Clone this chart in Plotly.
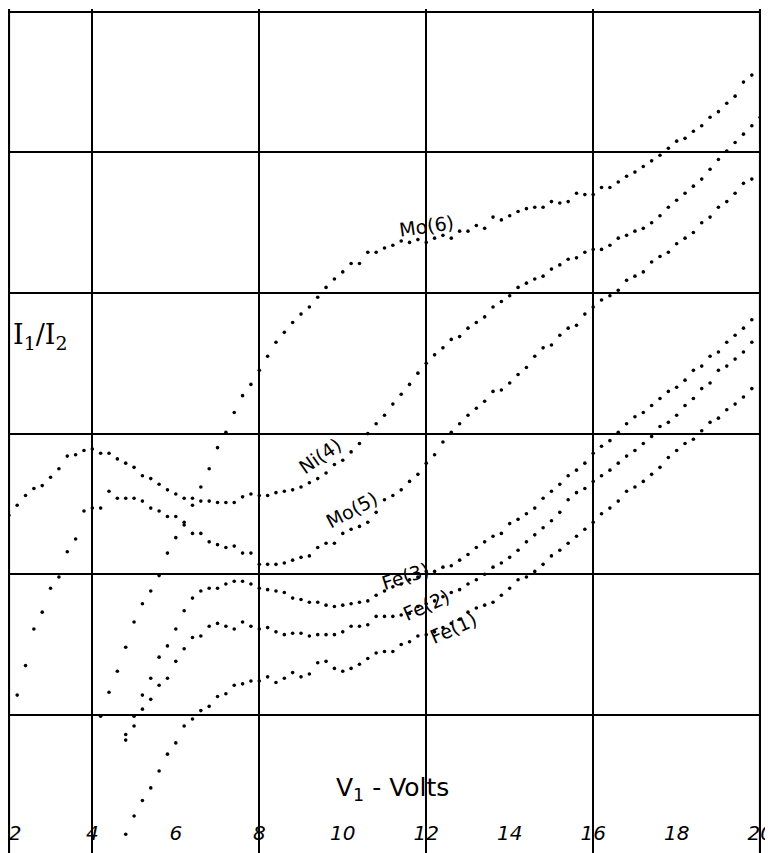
import plotly.graph_objects as go

VOLTS = [2.0, 2.2, 2.4, 2.6, 2.8, 3.0, 3.2, 3.4, 3.6, 3.8,
         4.0, 4.2, 4.4, 4.6, 4.8, 5.0, 5.2, 5.4, 5.6, 5.8,
         6.0, 6.2, 6.4, 6.6, 6.8, 7.0, 7.2, 7.4, 7.6, 7.8,
         8.0, 8.2, 8.4, 8.6, 8.8, 9.0, 9.2, 9.4, 9.6, 9.8,
         10.0, 10.2, 10.4, 10.6, 10.8, 11.0, 11.2, 11.4, 11.6, 11.8,
         12.0, 12.2, 12.4, 12.6, 12.8, 13.0, 13.2, 13.4, 13.6, 13.8,
         14.0, 14.2, 14.4, 14.6, 14.8, 15.0, 15.2, 15.4, 15.6, 15.8,
         16.0, 16.2, 16.4, 16.6, 16.8, 17.0, 17.2, 17.4, 17.6, 17.8,
         18.0, 18.2, 18.4, 18.6, 18.8, 19.0, 19.2, 19.4, 19.6, 19.8,
         20.0]

# I1/I2 ratio for each sample (arbitrary units, one grid square = 1)
MO6 = [0.99, 1.16, 1.31, 1.48, 1.66, 1.79, 1.88, 1.99, 2.15, 2.26,
       2.37, 2.49, 2.62, 2.75, 2.90, 3.01, 3.15, 3.27, 3.35, 3.45,
       3.55, 3.65, 3.72, 3.79, 3.85, 3.90, 3.97, 4.04, 4.10, 4.15,
       4.21, 4.21, 4.29, 4.29, 4.32, 4.34, 4.37, 4.36, 4.38, 4.36,
       4.39, 4.41, 4.39, 4.44, 4.44, 4.48, 4.46, 4.54, 4.52, 4.55,
       4.58, 4.60, 4.61, 4.61, 4.65, 4.64, 4.65, 4.71, 4.70, 4.70,
       4.75, 4.75, 4.79, 4.83, 4.86, 4.90, 4.94, 4.98, 5.03, 5.08,
       5.10, 5.15, 5.19, 5.25, 5.29, 5.35, 5.40, 5.50, 5.55]

NI4 = [2.42, 2.49, 2.56, 2.61, 2.63, 2.69, 2.75, 2.84, 2.85, 2.88,
       2.89, 2.86, 2.86, 2.82, 2.79, 2.76, 2.70, 2.68, 2.64, 2.60,
       2.57, 2.54, 2.54, 2.52, 2.52, 2.51, 2.51, 2.51, 2.55, 2.57,
       2.56, 2.56, 2.58, 2.59, 2.60, 2.62, 2.65, 2.68, 2.72, 2.78,
       2.81, 2.87, 2.93, 3.00, 3.07, 3.13, 3.21, 3.28, 3.35, 3.43,
       3.50, 3.56, 3.61, 3.67, 3.69, 3.75, 3.79, 3.83, 3.90, 3.94,
       3.98, 4.04, 4.07, 4.10, 4.12, 4.17, 4.20, 4.24, 4.25, 4.29,
       4.31, 4.31, 4.34, 4.39, 4.41, 4.44, 4.46, 4.50, 4.55, 4.61,
       4.66, 4.71, 4.76, 4.81, 4.88, 4.95, 5.01, 5.07, 5.13, 5.19,
       5.25]

MO5 = [1.14, 1.35, 1.61, 1.73, 1.90, 1.98, 2.16, 2.25, 2.45,
       2.47, 2.47, 2.59, 2.54, 2.54, 2.54, 2.52, 2.47, 2.45, 2.41,
       2.41, 2.35, 2.29, 2.29, 2.23, 2.21, 2.19, 2.20, 2.15, 2.15,
       2.07, 2.07, 2.07, 2.08, 2.10, 2.12, 2.13, 2.19, 2.22, 2.22,
       2.29, 2.32, 2.34, 2.37, 2.44, 2.53, 2.56, 2.60, 2.66, 2.71,
       2.79, 2.85, 2.94, 3.01, 3.07, 3.13, 3.18, 3.23, 3.30, 3.31,
       3.36, 3.42, 3.47, 3.55, 3.61, 3.63, 3.70, 3.75, 3.77, 3.85,
       3.90, 3.95, 3.98, 4.02, 4.09, 4.12, 4.15, 4.22, 4.26, 4.29,
       4.35, 4.39, 4.43, 4.50, 4.54, 4.61, 4.65, 4.71, 4.78, 4.81]

FE3 = [0.86, 0.99, 1.14, 1.26, 1.41, 1.49,
       1.61, 1.74, 1.83, 1.88, 1.90, 1.90, 1.93, 1.95, 1.95, 1.93,
       1.90, 1.89, 1.88, 1.87, 1.83, 1.82, 1.80, 1.80, 1.78, 1.77,
       1.78, 1.79, 1.80, 1.81, 1.85, 1.88, 1.91, 1.93, 1.96, 1.98,
       2.02, 2.02, 2.05, 2.06, 2.10, 2.14, 2.19, 2.23, 2.27, 2.29,
       2.36, 2.39, 2.43, 2.47, 2.54, 2.59, 2.64, 2.70, 2.74, 2.79,
       2.86, 2.91, 2.95, 3.01, 3.07, 3.12, 3.15, 3.20, 3.25, 3.30,
       3.33, 3.38, 3.45, 3.48, 3.55, 3.58, 3.65, 3.70, 3.75, 3.81]

FE2 = [0.82, 0.92, 1.04, 1.11, 1.21, 1.26,
       1.38, 1.47, 1.55, 1.56, 1.63, 1.65, 1.63, 1.61, 1.66, 1.63,
       1.61, 1.62, 1.59, 1.57, 1.58, 1.58, 1.56, 1.57, 1.57, 1.57,
       1.59, 1.63, 1.63, 1.64, 1.70, 1.70, 1.70, 1.71, 1.72, 1.77,
       1.79, 1.81, 1.84, 1.87, 1.89, 1.93, 1.96, 2.00, 2.05, 2.08,
       2.12, 2.17, 2.23, 2.28, 2.33, 2.38, 2.44, 2.53, 2.58, 2.61,
       2.66, 2.70, 2.74, 2.79, 2.84, 2.88, 2.93, 2.98, 3.05, 3.08,
       3.13, 3.20, 3.25, 3.32, 3.36, 3.45, 3.48, 3.53, 3.58, 3.65]

FE1 = [0.15, 0.28, 0.39, 0.48, 0.60, 0.72,
       0.80, 0.92, 0.97, 1.03, 1.06, 1.13, 1.15, 1.21, 1.22, 1.24,
       1.24, 1.27, 1.23, 1.26, 1.30, 1.27, 1.29, 1.37, 1.38, 1.33,
       1.31, 1.33, 1.36, 1.40, 1.44, 1.45, 1.45, 1.50, 1.52, 1.56,
       1.57, 1.59, 1.62, 1.65, 1.68, 1.73, 1.76, 1.78, 1.80, 1.85,
       1.90, 1.96, 1.98, 2.02, 2.07, 2.13, 2.17, 2.22, 2.27, 2.32,
       2.37, 2.43, 2.47, 2.52, 2.59, 2.62, 2.66, 2.71, 2.76, 2.83,
       2.88, 2.93, 2.96, 3.02, 3.08, 3.11, 3.17, 3.21, 3.26, 3.32]

# (name, values, first voltage)
SERIES = [
    ("Mo(6)", MO6, 4.2),
    ("Ni(4)", NI4, 2.0),
    ("Mo(5)", MO5, 2.2),
    ("Fe(3)", FE3, 4.8),
    ("Fe(2)", FE2, 4.8),
    ("Fe(1)", FE1, 4.8),
]

# curve labels: text, x, y, angle
LABELS = [
    ("Mo(6)", 12.0, 4.48, -8),
    ("Ni(4)", 9.45, 2.84, -35),
    ("Mo(5)", 10.2, 2.46, -28),
    ("Fe(3)", 11.5, 1.99, -18),
    ("Fe(2)", 12.0, 1.78, -24),
    ("Fe(1)", 12.65, 1.62, -24),
]

X_TICKS = [2, 4, 6, 8, 10, 12, 14, 16, 18, 20]
# the first label is nudged right so it sits inside the frame like the original
X_TICK_TEXT = ["\u00a0\u00a02", "4", "6", "8", "10", "12", "14", "16", "18", "20"]
X_GRID = [4, 8, 12, 16]
X_FRAME = [2, 20]
Y_GRID = [1, 2, 3, 4, 5, 6]

INK = "black"
FONT = "DejaVu Sans"

fig = go.Figure()

for name, vals, v0 in SERIES:
    i0 = VOLTS.index(v0)
    fig.add_trace(go.Scatter(
        x=VOLTS[i0:i0 + len(vals)],
        y=vals,
        mode="markers",
        name=name,
        marker=dict(size=3.6, color=INK),
        showlegend=False,
    ))

# left and right edges of the paper frame
for xv in X_FRAME:
    fig.add_vline(x=xv, line=dict(color=INK, width=2.5))

for text, x, y, ang in LABELS:
    fig.add_annotation(x=x, y=y, text=text, showarrow=False, textangle=ang,
                       font=dict(family=FONT, size=19, color=INK))

fig.add_annotation(x=2.75, y=3.69, text="I<sub>1</sub>/I<sub>2</sub>", showarrow=False,
                   font=dict(family="DejaVu Serif", size=27, color=INK))
fig.add_annotation(x=11.2, y=0.47, text="V<sub>1</sub> - Volts", showarrow=False,
                   font=dict(family=FONT, size=25, color=INK))

# the page body has an 8 px margin, so the figure is trimmed by that much
fig.update_layout(
    width=765,
    height=845,
    paper_bgcolor="white",
    plot_bgcolor="white",
    margin=dict(l=0, r=12, t=1, b=0, autoexpand=False),
    xaxis=dict(
        range=[1.98, 20.02],
        tickvals=X_TICKS,
        ticktext=X_TICK_TEXT,
        ticklabelposition="inside",
        ticklabeloverflow="allow",
        ticklabelstandoff=6,
        ticks="",
        tickfont=dict(family=FONT, size=20, color=INK, style="italic"),
        showgrid=False,
        zeroline=False,
        automargin=False,
        showline=False,
        minor=dict(tickvals=X_GRID, showgrid=True, gridcolor=INK, gridwidth=2, ticks=""),
    ),
    yaxis=dict(
        range=[0.017, 6.02],
        tickvals=Y_GRID,
        showticklabels=False,
        ticks="",
        showgrid=True, gridcolor=INK, gridwidth=2,
        zeroline=False,
        automargin=False,
        showline=False,
    ),
)

fig.write_html("out.html")
